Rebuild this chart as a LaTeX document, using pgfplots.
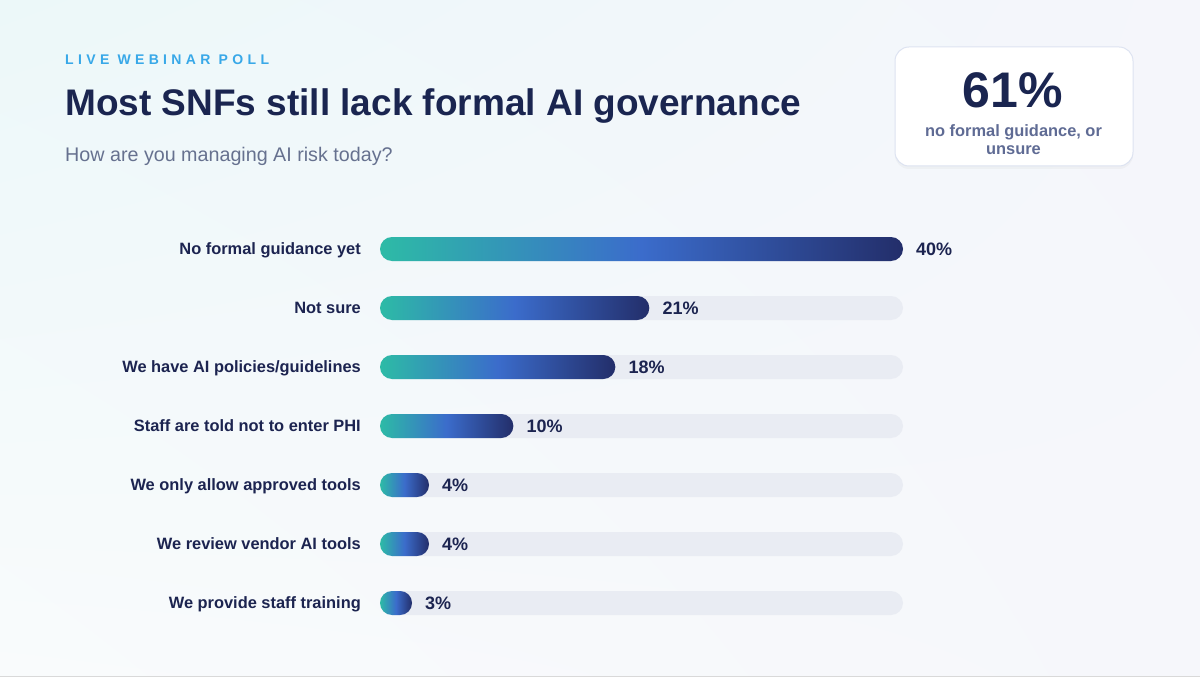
\documentclass[border=0pt]{standalone}
\usepackage{pgfplots}
\pgfplotsset{compat=1.18}
\usepackage{fontspec}
\setmainfont{Liberation Sans}
\usetikzlibrary{shadows,shadings}
\definecolor{titlenavy}{HTML}{1A2550}
\definecolor{subgray}{HTML}{66718F}
\definecolor{liveblue}{HTML}{38A8E8}
\definecolor{labelnavy}{HTML}{1C2450}
\definecolor{cteal}{HTML}{2DBBA6}
\definecolor{cblue}{HTML}{3B6CCB}
\definecolor{cnavy}{HTML}{232E6A}
\definecolor{track}{HTML}{E9ECF3}
\definecolor{calltext}{HTML}{5F6B94}
\definecolor{bgUL}{HTML}{ECF8F9}
\definecolor{bgUR}{HTML}{F5F6FB}
\definecolor{bgLL}{HTML}{F9FBFC}
\definecolor{bgLR}{HTML}{F6F7FB}
\definecolor{boxborder}{HTML}{DDE3F1}
\begin{document}
\begin{tikzpicture}[x=1pt,y=1pt]
\begin{scope}
\clip (0,0) rectangle (1200,677);
\shade[upper left=bgUL, upper right=bgUR, lower left=bgLL, lower right=bgLR]
  (0,0) rectangle (1200,677);
\draw[black!15, line width=1pt] (0,0.5) -- (1200,0.5);
\end{scope}
% header
\node[anchor=base west, inner sep=0pt, text=liveblue] at (65,612)
  {\fontsize{14}{16}\selectfont\bfseries\addfontfeatures{LetterSpace=31}LIVE WEBINAR POLL};
\node[anchor=base west, inner sep=0pt, text=titlenavy] at (65,561)
  {\fontsize{37}{44}\selectfont\bfseries Most SNFs still lack formal AI governance};
\node[anchor=base west, inner sep=0pt, text=subgray] at (65,515.5)
  {\fontsize{19.7}{22}\selectfont How are you managing AI risk today?};
% callout
\node[draw=boxborder, line width=1pt, fill=white, rounded corners=14pt,
  minimum width=238pt, minimum height=119pt,
  drop shadow={opacity=0.06, shadow xshift=0pt, shadow yshift=-3pt}] at (1014,570.5) {};
\node[anchor=base, inner sep=0pt, text=titlenavy] at (1013,569)
  {\fontsize{50}{56}\selectfont\bfseries 61\%};
\node[anchor=base, inner sep=0pt, text=calltext] at (1013.5,540)
  {\fontsize{16.4}{18}\selectfont\bfseries no formal guidance, or};
\node[anchor=base, inner sep=0pt, text=calltext] at (1013.5,522.5)
  {\fontsize{16.4}{18}\selectfont\bfseries unsure};
\begin{axis}[
  at={(380pt,44.5pt)}, anchor=south west,
  width=523pt, height=413pt, scale only axis,
  xmin=0, xmax=40, ymin=-0.5, ymax=6.5, y dir=reverse,
  xbar, bar width=24pt,
  axis line style={draw=none}, tick style={draw=none},
  major tick length=0pt,
  xtick=\empty, ytick={0,1,2,3,4,5,6},
  yticklabels={No formal guidance yet, Not sure, We have AI policies/guidelines,
    Staff are told not to enter PHI, We only allow approved tools,
    We review vendor AI tools, We provide staff training},
  yticklabel style={anchor=base east, inner sep=0pt, xshift=-19pt, yshift=-5.8pt,
    text=labelnavy, font=\fontsize{16.4}{18}\selectfont\bfseries},
  clip=false,
  gbar/.style={xbar, bar shift=0pt, bar width=24pt, draw=none, rounded corners=12pt,
    left color=cteal, right color=cnavy, middle color=cblue},
]
\addplot[xbar, bar shift=0pt, bar width=24pt, draw=none, fill=track, rounded corners=12pt]
  coordinates {(40,0) (40,1) (40,2) (40,3) (40,4) (40,5) (40,6)};
\addplot[gbar] coordinates {(40,0)};
\addplot[gbar] coordinates {(20.6,1)};
\addplot[gbar] coordinates {(18,2)};
\addplot[gbar] coordinates {(10.2,3)};
\addplot[gbar] coordinates {(3.75,4)};
\addplot[gbar] coordinates {(3.75,5)};
\addplot[gbar] coordinates {(2.45,6)};
\addplot[xbar, bar shift=0pt, bar width=1pt, draw=none, fill=none,
  point meta=explicit symbolic, nodes near coords,
  every node near coord/.append style={anchor=base west, inner sep=0pt,
    xshift=13pt, yshift=-6.5pt, text=labelnavy, font=\fontsize{18}{20}\selectfont\bfseries}]
  coordinates {(40,0)[40\%] (20.6,1)[21\%] (18,2)[18\%] (10.2,3)[10\%]
    (3.75,4)[4\%] (3.75,5)[4\%] (2.45,6)[3\%]};
\end{axis}
\pgfresetboundingbox
\useasboundingbox (0,0) rectangle (1200,677);
\end{tikzpicture}
\end{document}
